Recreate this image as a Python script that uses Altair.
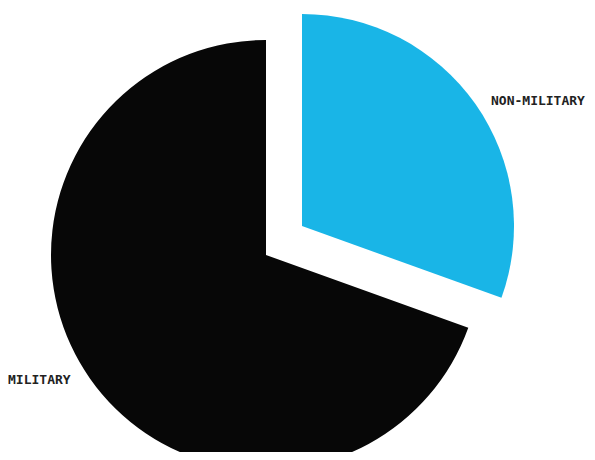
import altair as alt
import pandas as pd

categories = ["NON-MILITARY", "MILITARY"]
shares = [30.5, 69.5]
colors = ["#19b5e7", "#070707"]

df = pd.DataFrame({"category": categories, "share": shares, "order": [0, 1]})

base = (
    alt.Chart(df)
    .transform_joinaggregate(total="sum(share)")
    .transform_window(cum="sum(share)", sort=[alt.SortField("order")])
    .transform_calculate(
        t0="(datum.cum - datum.share) / datum.total * 2 * PI",
        t1="datum.cum / datum.total * 2 * PI",
    )
)

enc = dict(
    theta=alt.Theta("t0:Q", scale=None),
    theta2=alt.Theta2("t1:Q"),
    color=alt.Color("category:N", scale=alt.Scale(domain=categories, range=colors), legend=None),
)

black = base.transform_filter(alt.datum.category == "MILITARY").mark_arc(
    x=258, y=247, radius=215
).encode(**enc)

cyan = base.transform_filter(alt.datum.category == "NON-MILITARY").mark_arc(
    x=294, y=218, radius=212
).encode(**enc)

font = dict(font="DejaVu Sans Mono", fontWeight="bold", fontSize=13, color="#222222",
            align="left", baseline="middle")

lab_non = alt.Chart(df).transform_filter(alt.datum.category == "NON-MILITARY").mark_text(
    x=483, y=93, **font
).encode(text="category:N")

lab_mil = alt.Chart(df).transform_filter(alt.datum.category == "MILITARY").mark_text(
    x=0, y=372, **font
).encode(text="category:N")

chart = (
    alt.layer(black, cyan, lab_non, lab_mil)
    .properties(width=579, height=444, padding=0, autosize=alt.AutoSizeParams(type="none"))
    .configure_view(stroke=None)
)

chart.save("out.html", embed_options={"renderer": "svg", "actions": False})
